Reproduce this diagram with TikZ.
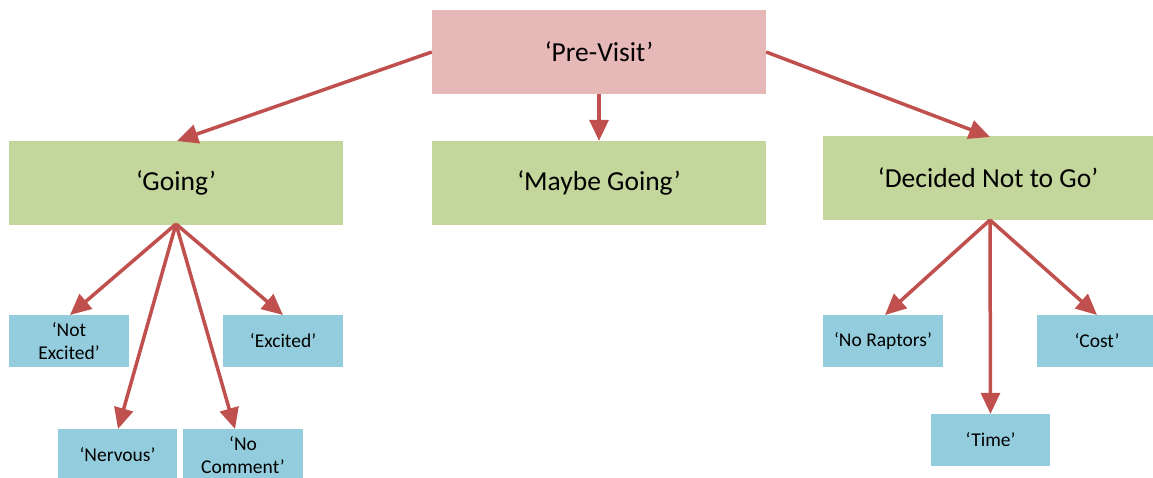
\documentclass[tikz,border=0pt]{standalone}
\usepackage{fontspec}
\setmainfont{Carlito}
\usetikzlibrary{arrows.meta}
\definecolor{pinkfill}{HTML}{E6B8B7}
\definecolor{greenfill}{HTML}{C3D69B}
\definecolor{bluefill}{HTML}{93CDDD}
\definecolor{arrowred}{HTML}{C0504D}
\tikzset{
  box/.style={inner sep=0pt, align=center, text=black},
  topbox/.style={box, fill=pinkfill, font=\fontsize{27.5}{32}\selectfont},
  midbox/.style={box, fill=greenfill, font=\fontsize{27.5}{32}\selectfont},
  leafbox/.style={box, fill=bluefill, font=\fontsize{19.5}{23}\selectfont},
  link/.style={draw=arrowred, line width=3.5pt, -{Triangle[length=21pt,width=19pt]}}
}
\begin{document}
\begin{tikzpicture}[x=1pt,y=-1pt]
\useasboundingbox (0,0) rectangle (1153,477);
% top
\node[topbox, minimum width=334pt, minimum height=84pt] (pre) at (599,52) {‘Pre-Visit’};
% middle
\node[midbox, minimum width=334pt, minimum height=84pt] (going) at (176,183) {‘Going’};
\node[midbox, minimum width=334pt, minimum height=84pt] (maybe) at (599,183) {‘Maybe Going’};
\node[midbox, minimum width=330pt, minimum height=84pt] (notgo) at (988,178) {‘Decided Not to Go’};
% leaves under Going
\node[leafbox, minimum width=120pt, minimum height=52pt] (notexc) at (69,341) {‘Not\\Excited’};
\node[leafbox, minimum width=120pt, minimum height=52pt] (exc) at (283,341) {‘Excited’};
\node[leafbox, minimum width=119pt, minimum height=52pt] (nerv) at (117.5,455) {‘Nervous’};
\node[leafbox, minimum width=120pt, minimum height=52pt] (nocom) at (243,455) {‘No\\Comment’};
% leaves under Decided
\node[leafbox, minimum width=120pt, minimum height=52pt] (norap) at (883,341) {‘No Raptors’};
\node[leafbox, minimum width=120pt, minimum height=52pt] (cost) at (1097,341) {‘Cost’};
\node[leafbox, minimum width=119pt, minimum height=52pt] (time) at (990.5,440) {‘Time’};
% helper coordinates
\coordinate (gb) at (176,224);
\coordinate (db) at (990,220);
% connectors
\draw[link] (pre.west) -- (177,141);
\draw[link] (pre.south) -- (maybe.north);
\draw[link] (pre.east) -- (990,137);
\draw[link] (gb) -- (70,315);
\draw[link] (gb) -- (283,315);
\draw[link] (gb) -- (118,429);
\draw[link] (gb) -- (235,429);
\draw[link] (db) -- (885,315);
\draw[link] (db) -- (1097,315);
\draw[link] (db) -- (time.north);
\end{tikzpicture}
\end{document}
